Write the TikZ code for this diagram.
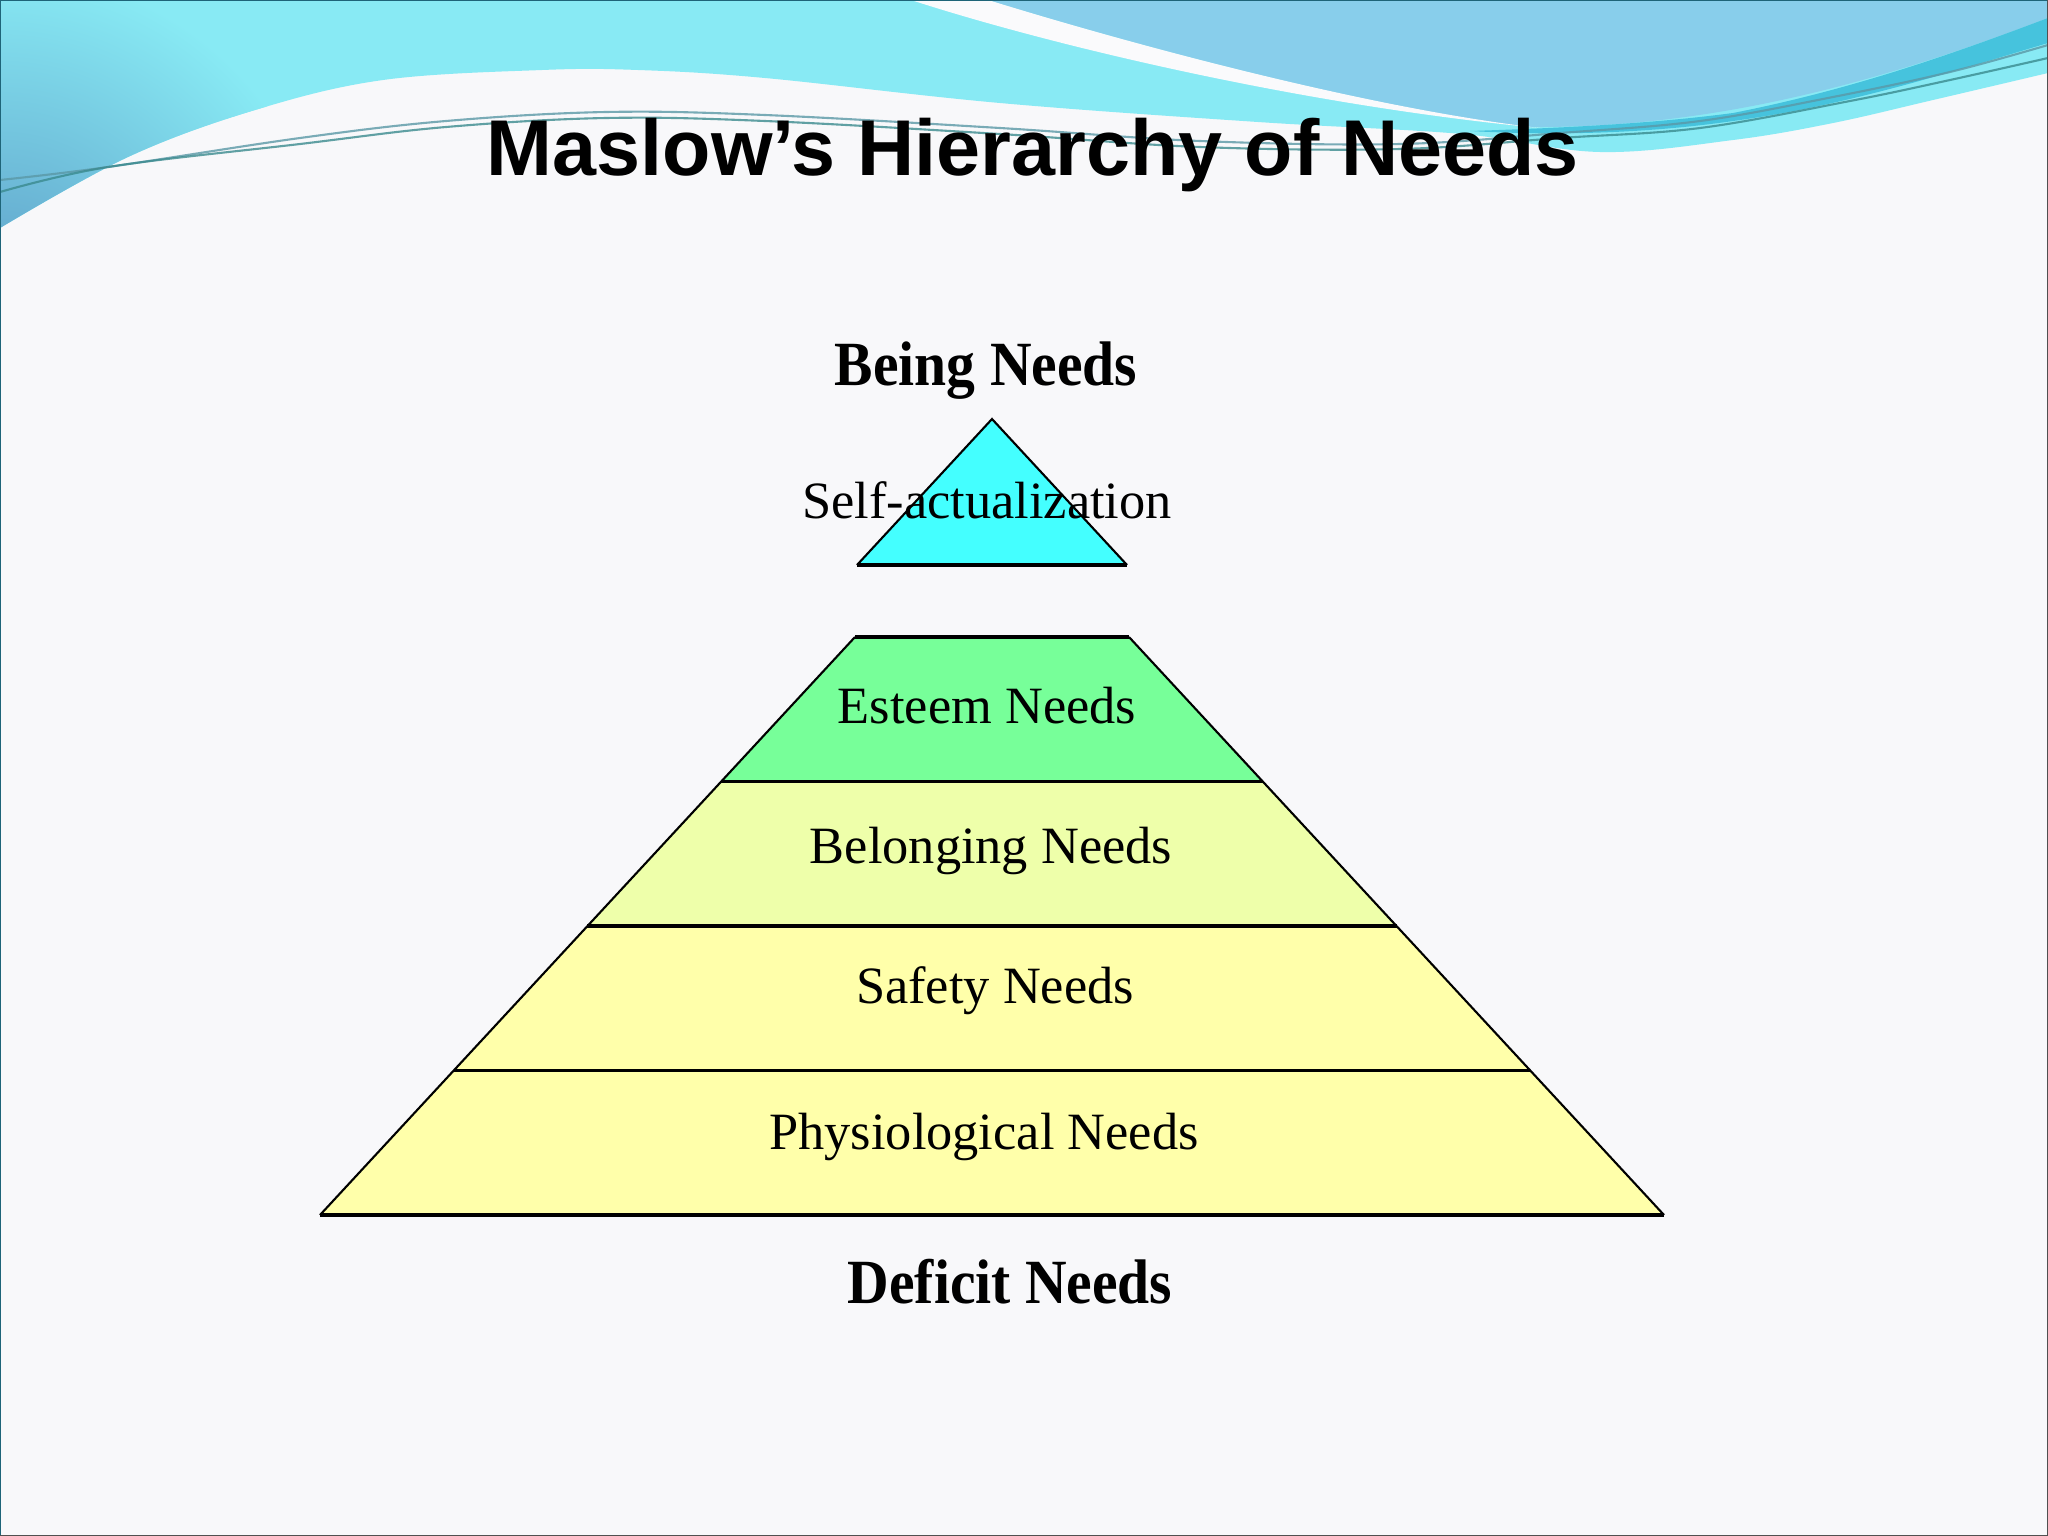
\documentclass[tikz,border=0pt]{standalone}
\usepackage{fontspec}
\setmainfont{Liberation Serif}
\newfontfamily\titlefont{Liberation Sans}
\definecolor{bgc}{HTML}{F8F8FA}
\definecolor{cyanA}{HTML}{88EAF4}
\definecolor{steelA}{HTML}{5E9FC8}
\definecolor{blueA}{HTML}{88CEEB}
\definecolor{ribbonA}{HTML}{46C3DD}
\definecolor{lineA}{HTML}{5A98A6}
\definecolor{lineB}{HTML}{3A8A8E}
\definecolor{swooshC}{HTML}{FAFAFC}
\definecolor{triC}{HTML}{44FFFF}
\definecolor{estC}{HTML}{77FF99}
\definecolor{belC}{HTML}{EEFFAA}
\definecolor{safC}{HTML}{FFFFAA}
\begin{document}
\begin{tikzpicture}[x=0.01cm,y=-0.01cm,
  lvl/.style={font=\fontsize{14.9}{16}\selectfont, anchor=base, inner sep=0pt},
  head/.style={font=\bfseries\fontsize{17.9}{20}\selectfont, anchor=base, inner sep=0pt, xscale=0.915},
  titlestyle/.style={font=\titlefont\bfseries\fontsize{22.5}{26}\selectfont, anchor=base, inner sep=0pt},
  sideline/.style={draw=black, line width=0.6pt},
  sepline/.style={draw=black, line width=1.0pt},
  thinline/.style={line width=0.6pt, opacity=0.8}]
\useasboundingbox (0,0) rectangle (2048,1536);
\fill[bgc] (0,0) rectangle (2048,1536);

% ---- banner: cyan region
\def\cyanpath{(0,0) -- (2048,0) -- plot[smooth,tension=0.6] coordinates {(2048,73) (1933,100) (1833,123) (1733,140) (1600,152) (1462,134) (1258,122) (1000,103) (765,78) (638,70) (542,70) (383,80) (255,110) (128,157) (0,228)} -- cycle}
\fill[cyanA] \cyanpath;
\begin{scope}
  \clip \cyanpath;
  \shade[inner color=steelA, outer color=cyanA] (0,300) circle (330);
\end{scope}

% ---- blue region (top right)
\fill[blueA] (988,0) .. controls (1150,50) and (1380,110) .. (1530,127)
  .. controls (1700,128) and (1860,90) .. (2048,18) -- (2048,0) -- cycle;

% ---- dark ribbon
\fill[ribbonA] (1470,131) .. controls (1560,128) and (1650,124) .. (1733,113)
  .. controls (1850,90) and (1950,55) .. (2048,18) -- (2048,43)
  .. controls (1950,72) and (1850,105) .. (1733,121)
  .. controls (1650,133) and (1560,136) .. (1470,131) -- cycle;

% ---- white swoosh
\fill[swooshC] (911,0) .. controls (1050,45) and (1300,105) .. (1540,128)
  .. controls (1380,110) and (1150,50) .. (988,0) -- cycle;

% ---- thin lines
\draw[thinline, lineA] plot[smooth,tension=0.6] coordinates {(0,180) (108,167) (300,138) (446,121) (606,112) (765,115) (1000,128) (1200,141) (1400,144) (1560,133) (1700,121) (1833,97) (1950,72) (2048,45)};
\draw[thinline, lineB] plot[smooth,tension=0.6] coordinates {(0,192) (108,167) (300,144) (446,127) (606,118) (765,121) (1000,134) (1200,147) (1400,149) (1560,138) (1700,128) (1850,101) (1950,80) (2048,58)};

% ---- slide border
\draw[line width=0.6pt, draw={rgb,255:red,30;green,100;blue,120}] (0,1536) -- (0,0) -- (2048,0);
\draw[line width=0.6pt, draw={rgb,255:red,80;green,80;blue,80}] (2048,0) -- (2048,1536) -- (0,1536);

% ---- title
\node[titlestyle] (title) at (1033,175) {Maslow’s Hierarchy of Needs};

% ---- pyramid: top triangle
\fill[triC] (992,419) -- (1127,565) -- (857,565) -- cycle;
\draw[sideline] (857,565) -- (992,419) -- (1127,565);
\draw[sepline] (857,565) -- (1127,565);

% ---- pyramid: lower tiers
\fill[estC] (855,637) -- (1129,637) -- (1263,781.5) -- (721,781.5) -- cycle;
\fill[belC] (721,781.5) -- (1263,781.5) -- (1397,926) -- (587,926) -- cycle;
\fill[safC] (587,926) -- (1397,926) -- (1530,1070.5) -- (454,1070.5) -- cycle;
\fill[safC] (454,1070.5) -- (1530,1070.5) -- (1664,1215) -- (320,1215) -- cycle;
\draw[sideline] (855,637) -- (320,1215);
\draw[sideline] (1129,637) -- (1664,1215);
\draw[sepline] (855,637) -- (1129,637);
\draw[sepline] (721,781.5) -- (1263,781.5);
\draw[sepline] (587,926) -- (1397,926);
\draw[sepline] (454,1070.5) -- (1530,1070.5);
\draw[sepline] (320,1215) -- (1664,1215);

% ---- labels
\node[head] (being) at (986,385) {Being Needs};
\node[lvl] (self) at (987,518) {Self-actualization};
\node[lvl] (esteem) at (987,723) {Esteem Needs};
\node[lvl] (belong) at (991,863) {Belonging Needs};
\node[lvl] (safety) at (995,1003) {Safety Needs};
\node[lvl] (physio) at (984,1149) {Physiological Needs};
\node[head] (deficit) at (1010,1303) {Deficit Needs};
\end{tikzpicture}
\end{document}
